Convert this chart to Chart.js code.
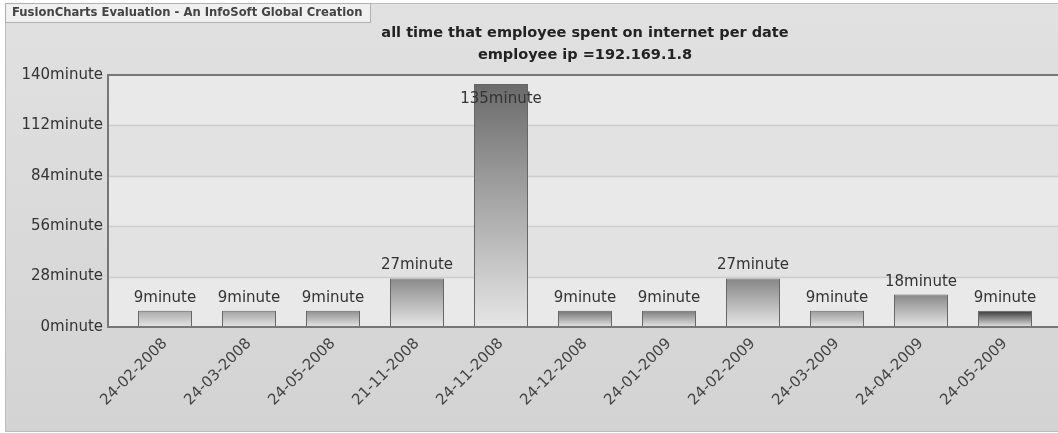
<!DOCTYPE html>
<html>
<head>
<meta charset="utf-8">
<script src="https://cdn.jsdelivr.net/npm/chart.js@4/dist/chart.umd.min.js"></script>
<style>
  html, body { margin: 0; padding: 0; background: #ffffff; }
  #wrap { width: 1058px; height: 433px; position: relative; }
</style>
</head>
<body>
<div id="wrap"><canvas id="c"></canvas></div>
<script>
// Dates and minutes spent online per date
const dates = ['24-02-2008', '24-03-2008', '24-05-2008', '21-11-2008', '24-11-2008', '24-12-2008',
               '24-01-2009', '24-02-2009', '24-03-2009', '24-04-2009', '24-05-2009'];
const minutes = [9, 9, 9, 27, 135, 9, 9, 27, 9, 18, 9];
const yTicks = [0, 28, 56, 84, 112, 140];
const unit = 'minute';
const titleLines = ['all time that employee spent on internet per date', 'employee ip =192.169.1.8'];
const badgeText = 'FusionCharts Evaluation - An InfoSoft Global Creation';

// Top shade of each bar's vertical gradient
const barTops = ['#a9a9a9', '#a2a2a2', '#8e8e8e', '#8a8a8a', '#6a6a6a', '#737373',
                 '#7c7c7c', '#858585', '#9b9b9b', '#888888', '#383838'];

const FONT = 'DejaVu Sans, Verdana, sans-serif';
const FRAME_LEFT = 108;

function barGradient(ctx) {
  const chart = ctx.chart;
  const area = chart.chartArea;
  if (!area || ctx.type !== 'data') return barTops[0];
  const y = chart.scales.y;
  const top = y.getPixelForValue(minutes[ctx.dataIndex]);
  const base = y.getPixelForValue(0);
  const g = chart.ctx.createLinearGradient(0, top, 0, base);
  g.addColorStop(0, barTops[ctx.dataIndex]);
  g.addColorStop(1, '#e6e6e6');
  return g;
}

// Page background, plot bands, grid lines, badge and frame
const decor = {
  id: 'decor',
  beforeDraw(chart) {
    const { ctx, width, height } = chart;
    const y = chart.scales.y;
    ctx.save();
    ctx.fillStyle = '#ffffff';
    ctx.fillRect(0, 0, width, height);
    const bg = ctx.createLinearGradient(0, 3, 0, height);
    bg.addColorStop(0, '#e1e1e1');
    bg.addColorStop(1, '#d3d3d3');
    ctx.fillStyle = bg;
    ctx.fillRect(5, 3, width - 5, height - 5);
    ctx.strokeStyle = '#bdbdbd';
    ctx.lineWidth = 1;
    ctx.strokeRect(5.5, 3.5, width, height - 5);

    // alternating bands
    for (let i = 0; i < yTicks.length - 1; i++) {
      const y0 = y.getPixelForValue(yTicks[i]);
      const y1 = y.getPixelForValue(yTicks[i + 1]);
      ctx.fillStyle = (i % 2 === 0) ? '#e9e9e9' : '#e2e2e2';
      ctx.fillRect(FRAME_LEFT, y1, width - FRAME_LEFT, y0 - y1);
    }
    // grid lines
    ctx.strokeStyle = '#cdcdcd';
    ctx.lineWidth = 1.5;
    for (let i = 1; i < yTicks.length - 1; i++) {
      const py = Math.round(y.getPixelForValue(yTicks[i])) + 0.5;
      ctx.beginPath();
      ctx.moveTo(FRAME_LEFT, py);
      ctx.lineTo(width, py);
      ctx.stroke();
    }

    // evaluation badge
    ctx.fillStyle = '#f0f0f0';
    ctx.fillRect(5, 3, 365, 19);
    ctx.strokeStyle = '#b0b0b0';
    ctx.lineWidth = 1;
    ctx.strokeRect(5.5, 3.5, 365, 19);
    ctx.fillStyle = '#444444';
    ctx.font = 'bold 11.6px ' + FONT;
    ctx.textBaseline = 'middle';
    ctx.textAlign = 'left';
    ctx.fillText(badgeText, 12, 13);
    ctx.restore();
  },
  afterDatasetsDraw(chart) {
    const { ctx, width } = chart;
    const y = chart.scales.y;
    const top = y.getPixelForValue(yTicks[yTicks.length - 1]);
    const bottom = y.getPixelForValue(0);
    ctx.save();
    ctx.strokeStyle = '#777777';
    ctx.lineWidth = 2;
    ctx.beginPath();
    ctx.moveTo(width, top);
    ctx.lineTo(FRAME_LEFT, top);
    ctx.lineTo(FRAME_LEFT, bottom);
    ctx.lineTo(width, bottom);
    ctx.stroke();

    // value labels
    const meta = chart.getDatasetMeta(0);
    ctx.font = '15px ' + FONT;
    ctx.fillStyle = '#333333';
    ctx.textAlign = 'center';
    meta.data.forEach((bar, i) => {
      const text = minutes[i] + unit;
      if (bar.y - 26 < top) {
        ctx.textBaseline = 'middle';
        ctx.fillText(text, bar.x, bar.y + 15);
      } else {
        ctx.textBaseline = 'alphabetic';
        ctx.fillText(text, bar.x, bar.y - 9);
      }
    });
    ctx.restore();
  }
};

new Chart(document.getElementById('c'), {
  type: 'bar',
  data: {
    labels: dates,
    datasets: [{
      data: minutes,
      backgroundColor: barGradient,
      borderColor: '#666666',
      borderWidth: 1,
      borderSkipped: 'start',
      categoryPercentage: 1,
      barPercentage: 0.643
    }]
  },
  options: {
    responsive: true,
    maintainAspectRatio: false,
    animation: false,
    events: [],
    layout: { padding: { top: 0, left: 0, right: 11, bottom: 0 } },
    plugins: {
      legend: { display: false },
      tooltip: { enabled: false },
      title: {
        display: true,
        fullSize: false,
        text: titleLines,
        color: '#222222',
        font: { family: FONT, size: 14.5, weight: 'bold', lineHeight: 1.52 },
        padding: { top: 22, bottom: 8.9 }
      }
    },
    scales: {
      x: {
        grid: { display: false, drawTicks: false },
        border: { display: false },
        ticks: {
          color: '#444444',
          font: { family: FONT, size: 15 },
          minRotation: 45,
          maxRotation: 45,
          padding: 8
        },
        afterFit(scale) { scale.height = 433 - 327; }
      },
      y: {
        min: 0,
        max: 140,
        afterBuildTicks(scale) { scale.ticks = yTicks.map(v => ({ value: v })); },
        grid: { display: false, drawTicks: false },
        border: { display: false },
        ticks: {
          color: '#333333',
          font: { family: FONT, size: 15 },
          padding: 20,
          callback: v => v + unit
        },
        afterFit(scale) { scale.width = 123; }
      }
    }
  },
  plugins: [decor]
});
</script>
</body>
</html>
